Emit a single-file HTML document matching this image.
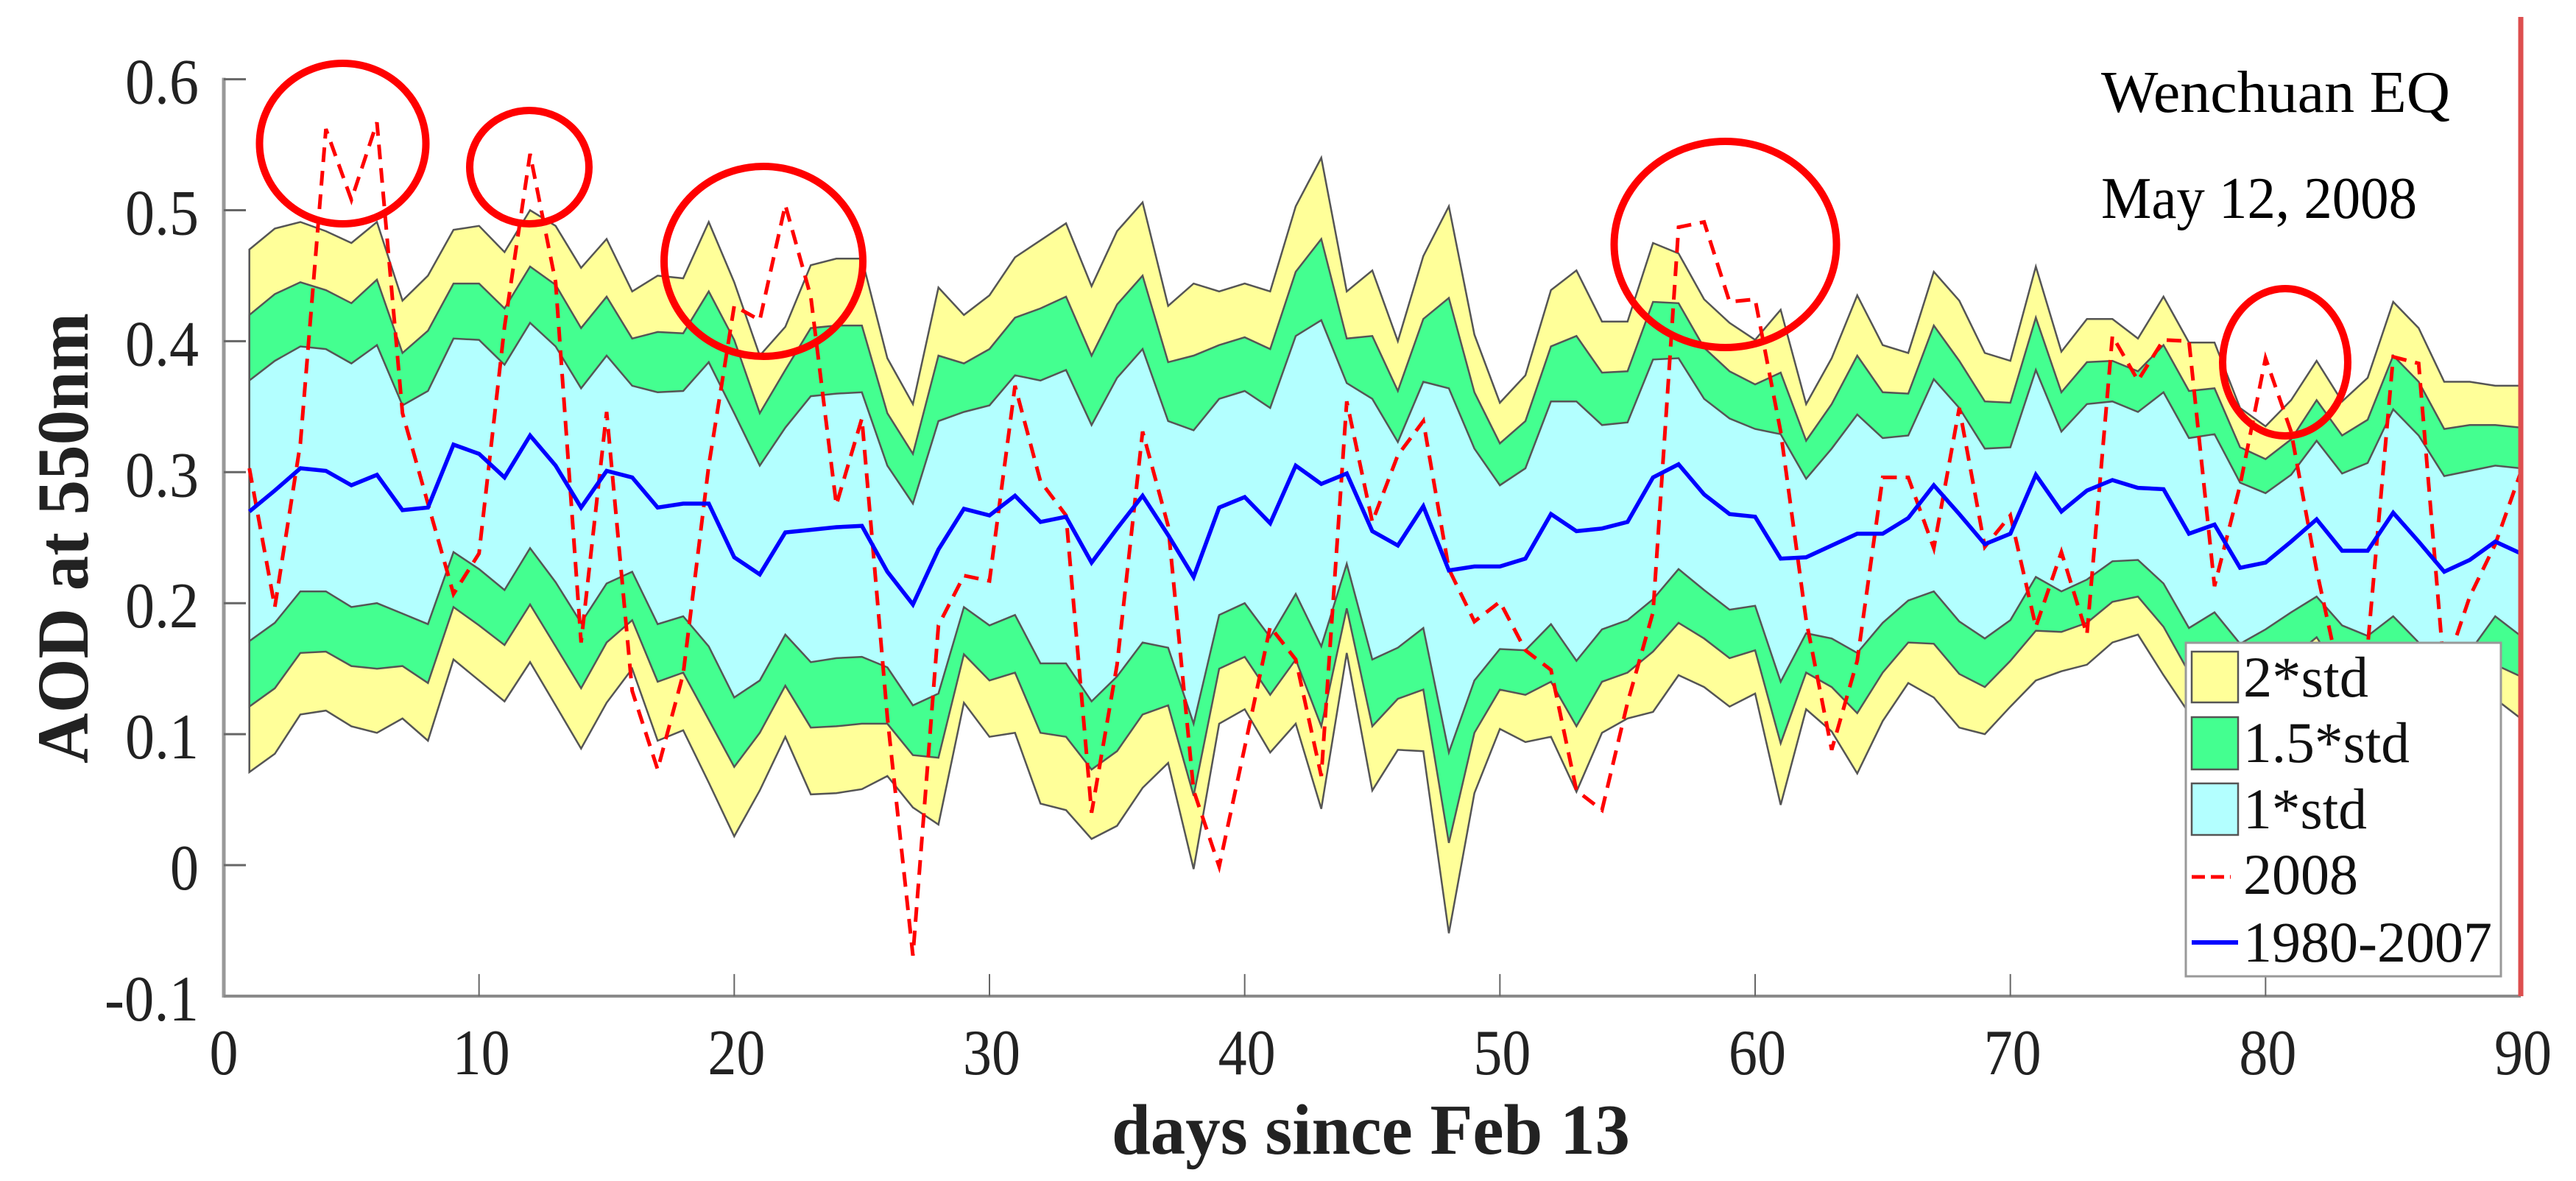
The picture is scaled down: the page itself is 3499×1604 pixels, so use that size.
<!DOCTYPE html>
<html lang="en">
<head>
<meta charset="utf-8">
<title>AOD at 550nm, Wenchuan EQ</title>
<style>
html,body{margin:0;padding:0;background:#fff;}
svg{display:block;font-family:"Liberation Serif",serif;}
</style>
</head>
<body>
<svg id="chart" xmlns="http://www.w3.org/2000/svg" width="3499" height="1604" viewBox="0 0 3499 1604">
<rect x="0" y="0" width="3499" height="1604" fill="#ffffff"/>
<g id="bands"></g>
<g id="lines"></g>
<g id="axes"></g>
<g fill="none" stroke="#ff0000" stroke-width="10">
<ellipse cx="465.5" cy="195" rx="113" ry="109"/>
<ellipse cx="719" cy="227" rx="81" ry="77"/>
<ellipse cx="1037" cy="355" rx="135" ry="129"/>
<ellipse cx="2343.5" cy="332" rx="151" ry="140"/>
<ellipse cx="3104" cy="492" rx="85" ry="100"/>
</g>
<text x="2854" y="152" font-size="80" textLength="474" lengthAdjust="spacingAndGlyphs" fill="#000">Wenchuan EQ</text>
<text x="2854" y="296" font-size="80" textLength="429" lengthAdjust="spacingAndGlyphs" fill="#000">May 12, 2008</text>
<text transform="translate(119,1037) rotate(-90)" font-size="100" font-weight="bold" textLength="612" lengthAdjust="spacingAndGlyphs" fill="#222">AOD at 550nm</text>
<text x="1510" y="1567" font-size="98" font-weight="bold" textLength="704" lengthAdjust="spacingAndGlyphs" fill="#222">days since Feb 13</text>
<g>
<rect x="2969" y="873" width="428" height="453" fill="#fff" stroke="#999" stroke-width="3"/>
<rect x="2977" y="885" width="63" height="69" fill="#ffff99" stroke="#555" stroke-width="2.5"/>
<rect x="2977" y="974" width="63" height="71" fill="#44ff90" stroke="#555" stroke-width="2.5"/>
<rect x="2977" y="1064" width="63" height="70" fill="#b3ffff" stroke="#555" stroke-width="2.5"/>
<line x1="2977" y1="1191" x2="3030" y2="1191" stroke="#ff0000" stroke-width="5" stroke-dasharray="18 8"/>
<line x1="2977" y1="1280" x2="3040" y2="1280" stroke="#0000ff" stroke-width="6"/>
<g font-size="78" fill="#111">
<text x="3047" y="946" textLength="170" lengthAdjust="spacingAndGlyphs">2*std</text>
<text x="3047" y="1035" textLength="226" lengthAdjust="spacingAndGlyphs">1.5*std</text>
<text x="3047" y="1125" textLength="168" lengthAdjust="spacingAndGlyphs">1*std</text>
<text x="3047" y="1214" textLength="156" lengthAdjust="spacingAndGlyphs">2008</text>
<text x="3047" y="1306" textLength="338" lengthAdjust="spacingAndGlyphs">1980-2007</text>
</g>
</g>
<line x1="3424" y1="23" x2="3424" y2="1353" stroke="#dd4f4f" stroke-width="7"/>
</svg>
<script>
const upper2 = [.470,.486,.491,.484,.475,.491,.431,.450,.485,.488,.468,.500,.488,.456,.478,.438,.450,.448,.491,.445,.389,.411,.458,.463,.463,.387,.352,.441,.420,.435,.464,.477,.490,.442,.484,.506,.427,.444,.438,.444,.438,.503,.540,.438,.454,.400,.465,.503,.405,.353,.374,.439,.454,.415,.415,.475,.467,.432,.414,.401,.424,.352,.387,.435,.397,.391,.453,.431,.391,.385,.457,.392,.417,.417,.402,.434,.399,.399,.349,.335,.355,.385,.354,.372,.430,.410,.369,.369,.366,.366];
const upper15 = [.420,.436,.445,.439,.429,.447,.391,.408,.444,.444,.425,.457,.443,.410,.434,.402,.407,.406,.438,.401,.345,.378,.410,.412,.412,.345,.314,.389,.383,.394,.418,.425,.434,.389,.428,.450,.384,.389,.397,.403,.394,.453,.478,.402,.404,.362,.417,.433,.361,.322,.339,.396,.404,.376,.377,.430,.429,.395,.377,.367,.376,.324,.352,.389,.361,.360,.412,.385,.354,.353,.418,.361,.384,.385,.377,.397,.362,.364,.319,.310,.325,.355,.328,.340,.389,.369,.333,.336,.336,.334];
const upper1 = [.370,.385,.396,.394,.383,.397,.351,.362,.402,.401,.382,.414,.396,.364,.389,.366,.361,.362,.384,.345,.305,.334,.358,.360,.361,.305,.276,.339,.346,.351,.374,.370,.378,.336,.372,.394,.339,.332,.356,.362,.349,.404,.416,.368,.356,.323,.369,.364,.318,.290,.303,.354,.354,.336,.338,.386,.387,.356,.341,.333,.329,.295,.318,.344,.326,.328,.371,.349,.318,.319,.378,.331,.352,.354,.346,.361,.326,.329,.292,.284,.298,.324,.299,.307,.348,.328,.297,.301,.305,.303];
const meanSeries = [.270,.286,.303,.301,.290,.298,.271,.273,.321,.314,.296,.328,.305,.273,.301,.296,.273,.276,.276,.235,.222,.254,.256,.258,.259,.224,.199,.241,.272,.267,.282,.262,.266,.231,.257,.282,.252,.220,.273,.281,.261,.305,.291,.299,.255,.244,.274,.225,.228,.228,.234,.268,.255,.257,.262,.296,.306,.283,.268,.266,.234,.235,.244,.253,.253,.265,.290,.268,.245,.253,.298,.270,.286,.294,.288,.287,.253,.260,.227,.231,.247,.264,.240,.240,.269,.247,.224,.233,.247,.238];
const lower1 = [.171,.185,.209,.209,.197,.200,.192,.184,.239,.226,.210,.242,.216,.185,.215,.224,.184,.190,.167,.128,.141,.176,.155,.158,.159,.151,.122,.131,.197,.183,.191,.154,.154,.125,.144,.170,.166,.108,.191,.200,.174,.207,.167,.230,.157,.166,.181,.086,.141,.165,.164,.184,.156,.180,.187,.203,.226,.210,.195,.198,.140,.177,.173,.162,.185,.202,.209,.186,.173,.187,.220,.209,.218,.232,.233,.215,.181,.193,.169,.180,.193,.205,.183,.175,.190,.170,.153,.163,.190,.175];
const lower15 = [.121,.135,.162,.163,.152,.150,.152,.139,.197,.183,.168,.199,.167,.135,.170,.187,.140,.147,.111,.075,.101,.137,.105,.106,.108,.108,.084,.082,.161,.141,.147,.101,.098,.073,.087,.115,.122,.053,.150,.159,.130,.157,.106,.196,.106,.127,.134,.017,.101,.134,.130,.140,.106,.140,.147,.163,.185,.173,.158,.164,.093,.147,.136,.116,.147,.170,.169,.146,.136,.156,.179,.178,.185,.201,.205,.182,.147,.153,.133,.144,.158,.174,.144,.136,.154,.133,.116,.124,.153,.144];
const lower2 = [.071,.085,.115,.118,.106,.101,.112,.095,.157,.141,.125,.155,.122,.089,.124,.150,.095,.103,.063,.022,.057,.098,.054,.055,.058,.068,.044,.031,.124,.098,.101,.047,.042,.020,.030,.059,.078,-.003,.108,.119,.086,.108,.043,.162,.057,.088,.087,-.052,.055,.104,.094,.098,.056,.101,.112,.117,.145,.136,.121,.131,.046,.119,.102,.070,.110,.139,.128,.105,.100,.121,.141,.148,.153,.170,.176,.145,.116,.125,.090,.107,.125,.141,.107,.096,.121,.090,.075,.084,.127,.112];
const series2008 = [.303,.197,.322,.562,.508,.567,.345,.276,.207,.238,.411,.543,.445,.170,.346,.133,.073,.146,.305,.427,.416,.504,.434,.275,.341,.113,-.069,.183,.221,.217,.366,.293,.267,.040,.153,.331,.259,.057,-.001,.090,.182,.157,.068,.354,.262,.313,.339,.226,.186,.201,.164,.149,.057,.042,.124,.193,.487,.491,.430,.432,.331,.187,.088,.156,.296,.296,.242,.349,.243,.267,.182,.239,.176,.404,.370,.401,.400,.213,.290,.387,.331,.225,.136,.167,.388,.383,.147,.205,.245,.300];
const xTickValues = [0,10,20,30,40,50,60,70,80,90];
const xTickLabels = ["0","10","20","30","40","50","60","70","80","90"];
const yTickValues = [-0.1,0,0.1,0.2,0.3,0.4,0.5,0.6];
const yTickLabels = ["-0.1","0","0.1","0.2","0.3","0.4","0.5","0.6"];

const NS = 'http://www.w3.org/2000/svg';
function xScale(d){ return 304 + (d / 90) * 3120; }
function yScale(v){ return 1175 - v * 1779; }
function pts(arr){ return arr.map(function(v,i){ return xScale(i+1).toFixed(1)+','+yScale(v).toFixed(1); }); }

const bandsG = document.getElementById('bands');
const linesG = document.getElementById('lines');
const axesG = document.getElementById('axes');

function bandPolygon(up, lo, fill){
  const p = document.createElementNS(NS,'polygon');
  p.setAttribute('points', pts(up).concat(pts(lo).reverse()).join(' '));
  p.setAttribute('fill', fill);
  p.setAttribute('stroke', '#555');
  p.setAttribute('stroke-width', '2.5');
  p.setAttribute('stroke-linejoin', 'miter');
  return p;
}
const band2 = bandPolygon(upper2, lower2, '#ffff99');


bandsG.appendChild(band2);
const band15 = bandPolygon(upper15, lower15, '#44ff90');


bandsG.appendChild(band15);
const band1 = bandPolygon(upper1, lower1, '#b3ffff');


bandsG.appendChild(band1);

const line2008 = document.createElementNS(NS,'polyline');


line2008.setAttribute('points', pts(series2008).join(' '));
line2008.setAttribute('fill', 'none');
line2008.setAttribute('stroke', '#ff0000');
line2008.setAttribute('stroke-width', '5');
line2008.setAttribute('stroke-dasharray', '20 12');
linesG.appendChild(line2008);

const lineMean = document.createElementNS(NS,'polyline');


lineMean.setAttribute('points', pts(meanSeries).join(' '));
lineMean.setAttribute('fill', 'none');
lineMean.setAttribute('stroke', '#0000ff');
lineMean.setAttribute('stroke-width', '5.5');
lineMean.setAttribute('stroke-linejoin', 'miter');
linesG.appendChild(lineMean);

const yAxis = document.createElementNS(NS,'line');


yAxis.setAttribute('x1', xScale(0));
yAxis.setAttribute('x2', xScale(0));
yAxis.setAttribute('y1', yScale(0.6) - 2);
yAxis.setAttribute('y2', yScale(-0.1) + 2);
yAxis.setAttribute('stroke', '#999');
yAxis.setAttribute('stroke-width', '5');
axesG.appendChild(yAxis);

const xAxis = document.createElementNS(NS,'line');


xAxis.setAttribute('x1', xScale(0));
xAxis.setAttribute('x2', xScale(90));
xAxis.setAttribute('y1', yScale(-0.1));
xAxis.setAttribute('y2', yScale(-0.1));
xAxis.setAttribute('stroke', '#888');
xAxis.setAttribute('stroke-width', '4');
axesG.appendChild(xAxis);

xTickValues.forEach(function(d,i){
  if (d > 0 && d < 90) {
    const t = document.createElementNS(NS,'line');
    
    
    t.setAttribute('x1', xScale(d));
    t.setAttribute('x2', xScale(d));
    t.setAttribute('y1', yScale(-0.1));
    t.setAttribute('y2', yScale(-0.1) - 30);
    t.setAttribute('stroke', '#666');
    t.setAttribute('stroke-width', '2');
    axesG.appendChild(t);
  }
  const lab = document.createElementNS(NS,'text');
  
  
  lab.setAttribute('x', xScale(d) + (d > 0 ? 3 : 0));
  lab.setAttribute('y', 1459);
  lab.setAttribute('font-size', '88');
  lab.setAttribute('fill', '#222');
  lab.setAttribute('text-anchor', 'middle');
  lab.setAttribute('textLength', 39 * xTickLabels[i].length);
  lab.setAttribute('lengthAdjust', 'spacingAndGlyphs');
  lab.textContent = xTickLabels[i];
  axesG.appendChild(lab);
});

yTickValues.forEach(function(v,i){
  if (v > -0.1) {
    const t = document.createElementNS(NS,'line');
    
    
    t.setAttribute('x1', xScale(0));
    t.setAttribute('x2', xScale(0) + 30);
    t.setAttribute('y1', yScale(v));
    t.setAttribute('y2', yScale(v));
    t.setAttribute('stroke', '#666');
    t.setAttribute('stroke-width', '3');
    axesG.appendChild(t);
  }
  const s = yTickLabels[i];
  const lab = document.createElementNS(NS,'text');
  
  
  lab.setAttribute('x', 270);
  lab.setAttribute('y', yScale(v) + 33);
  lab.setAttribute('font-size', '88');
  lab.setAttribute('fill', '#222');
  lab.setAttribute('text-anchor', 'end');
  lab.setAttribute('textLength', s.length === 4 ? 128 : (s.length === 3 ? 100 : 39));
  lab.setAttribute('lengthAdjust', 'spacingAndGlyphs');
  lab.textContent = s;
  axesG.appendChild(lab);
});
</script>
</body>
</html>
